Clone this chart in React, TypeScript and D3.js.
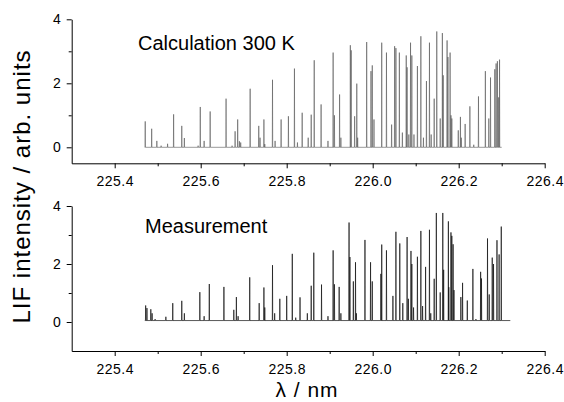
import React, { useEffect, useRef } from "react";
import * as d3 from "d3";

// peak positions (nm) and heights
const calcWavelength = [
  225.471, 225.486, 225.498, 225.508, 225.523, 225.537, 225.556, 225.562, 225.594, 225.599,
  225.608, 225.622, 225.659, 225.673, 225.68, 225.686, 225.69, 225.693, 225.715, 225.735,
  225.738, 225.747, 225.749, 225.767, 225.773, 225.787, 225.804, 225.818, 225.825, 225.836,
  225.85, 225.857, 225.864, 225.88, 225.896, 225.908, 225.911, 225.923, 225.926, 225.948,
  225.95, 225.958, 225.963, 225.965, 225.986, 225.996, 225.999, 226.003, 226.021, 226.032,
  226.044, 226.051, 226.054, 226.062, 226.069, 226.078, 226.08, 226.084, 226.088, 226.091,
  226.096, 226.104, 226.112, 226.118, 226.125, 226.132, 226.136, 226.143, 226.149, 226.157,
  226.162, 226.164, 226.173, 226.175, 226.18, 226.182, 226.184, 226.199, 226.204, 226.206,
  226.215, 226.226, 226.235, 226.246, 226.262, 226.27, 226.274, 226.284, 226.287, 226.29,
  226.293, 226.295,
];
const calcIntensity = [
  0.81, 0.58, 0.2, 0.05, 0.11, 1.03, 0.67, 0.29, 0.05, 1.26,
  0.2, 1.12, 1.52, 0.05, 0.5, 0.87, 0.19, 0.15, 1.83, 0.67,
  0.3, 0.87, 0.1, 2.11, 0.2, 0.87, 0.97, 2.46, 0.15, 1.08,
  0.3, 1.02, 2.72, 1.34, 0.2, 2.96, 1.0, 1.65, 0.3, 3.19,
  3.03, 0.97, 1.99, 0.3, 3.29, 2.38, 2.56, 0.87, 3.27, 2.96,
  0.71, 3.16, 3.1, 2.96, 0.46, 2.87, 2.5, 0.4, 3.27, 2.87,
  0.4, 2.54, 3.47, 0.3, 2.07, 3.27, 0.4, 1.52, 3.62, 0.9,
  3.57, 2.25, 3.34, 2.82, 2.96, 1.0, 0.9, 0.53, 0.95, 0.3,
  0.73, 1.28, 0.08, 1.59, 2.38, 0.9, 2.18, 2.44, 2.62, 2.69,
  1.56, 2.74,
];

const measWavelength = [
  225.472, 225.475, 225.484, 225.487, 225.494, 225.519, 225.535, 225.556, 225.562, 225.598,
  225.608, 225.62, 225.654, 225.677, 225.683, 225.687, 225.714, 225.736, 225.747, 225.749,
  225.767, 225.772, 225.784, 225.8, 225.813, 225.821, 225.831, 225.848, 225.857, 225.863,
  225.881, 225.896, 225.908, 225.911, 225.922, 225.926, 225.945, 225.947, 225.955, 225.96,
  225.962, 225.982, 225.995, 225.999, 226.019, 226.021, 226.032, 226.047, 226.054, 226.063,
  226.07, 226.08, 226.083, 226.089, 226.091, 226.095, 226.104, 226.112, 226.116, 226.123,
  226.132, 226.135, 226.143, 226.148, 226.157, 226.163, 226.165, 226.176, 226.177, 226.182,
  226.184, 226.187, 226.189, 226.205, 226.209, 226.22, 226.233, 226.24, 226.251, 226.253,
  226.267, 226.271, 226.278, 226.281, 226.289, 226.294, 226.299,
];
const measIntensity = [
  0.57, 0.48, 0.44, 0.3, 0.1, 0.18, 0.65, 0.73, 0.3, 1.03,
  0.2, 1.31, 1.21, 0.42, 0.86, 0.2, 1.54, 0.65, 1.19, 0.5,
  1.96, 0.3, 0.8, 0.9, 2.35, 0.15, 0.85, 0.3, 1.25, 2.39,
  1.29, 0.2, 2.47, 1.3, 1.21, 0.3, 3.43, 2.24, 1.4, 2.06,
  0.3, 2.83, 2.06, 1.4, 1.66, 2.67, 2.47, 0.9, 3.11, 2.71,
  0.65, 2.93, 0.8, 2.45, 2.0, 0.5, 2.25, 3.14, 0.55, 1.9,
  3.18, 0.3, 1.49, 3.76, 1.02, 3.76, 1.8, 3.47, 1.2, 3.09,
  2.97, 2.68, 1.1, 0.86, 1.35, 0.74, 1.83, 0.1, 1.73, 1.5,
  2.88, 0.95, 2.22, 2.0, 2.82, 2.33, 3.29,
];

const xTicks = [225.4, 225.6, 225.8, 226.0, 226.2, 226.4];
const xMinorTicks = [225.5, 225.7, 225.9, 226.1, 226.3];
const yTicks = [0, 2, 4];
const yMinorTicks = [1, 3];

const FONT = "Arial, 'Liberation Sans', Helvetica, sans-serif";

const App = () => {
  const ref = useRef<SVGSVGElement>(null);

  useEffect(() => {
    const svg = d3.select(ref.current);
    svg.selectAll("*").remove();

    const x = d3.scaleLinear().domain([225.3, 226.4]).range([71.7, 544.7]);

    const panels = [
      {
        wl: calcWavelength, inten: calcIntensity, start: 225.47, end: 226.3, base: 0,
        yDomain: [-0.5, 4], yRange: [163.3, 19.3], stroke: "#555", width: 0.6,
        label: "Calculation 300 K", lx: 138, ly: 50,
      },
      {
        wl: measWavelength, inten: measIntensity, start: 225.47, end: 226.32, base: 0.05,
        yDomain: [-1, 4], yRange: [351, 206], stroke: "#111", width: 0.7,
        label: "Measurement", lx: 145, ly: 233,
      },
    ];

    panels.forEach(p => {
      const y = d3.scaleLinear().domain(p.yDomain).range(p.yRange);
      const hw = 0.0005;

      // spectrum: narrow triangle per line on a flat baseline
      const order = d3.range(p.wl.length).sort((a, b) => p.wl[a] - p.wl[b]);
      const pts: [number, number][] = [[p.start, p.base]];
      order.forEach(i => {
        pts.push([p.wl[i] - hw, p.base], [p.wl[i], p.inten[i]], [p.wl[i] + hw, p.base]);
      });
      pts.push([p.end, p.base]);

      const line = d3.line<[number, number]>().x(d => x(d[0])).y(d => y(d[1]));

      svg.append("path")
        .datum(pts)
        .attr("fill", "none")
        .attr("stroke", p.stroke)
        .attr("stroke-width", p.width)
        .attr("d", line);

      const axisY = p.yRange[0];

      const gx = svg.append("g")
        .attr("transform", `translate(0,${axisY})`)
        .call(d3.axisBottom(x).tickValues(xTicks).tickFormat(d3.format(".1f"))
          .tickSize(5).tickSizeOuter(0).tickPadding(8));
      svg.append("g")
        .attr("transform", `translate(0,${axisY})`)
        .call(d3.axisBottom(x).tickValues(xMinorTicks).tickFormat(() => "")
          .tickSize(3).tickSizeOuter(0))
        .select(".domain").remove();

      const gy = svg.append("g")
        .attr("transform", "translate(71.7,0)")
        .call(d3.axisLeft(y).tickValues(yTicks).tickFormat(d3.format("d"))
          .tickSize(5).tickSizeOuter(0).tickPadding(6));
      svg.append("g")
        .attr("transform", "translate(71.7,0)")
        .call(d3.axisLeft(y).tickValues(yMinorTicks).tickFormat(() => "")
          .tickSize(3).tickSizeOuter(0))
        .select(".domain").remove();

      [gx, gy].forEach(g => {
        g.selectAll("text")
          .attr("font-family", FONT)
          .attr("font-size", 14)
          .attr("fill", "#000");
      });
      gx.selectAll("text").attr("letter-spacing", 0.5);

      svg.append("text")
        .attr("x", p.lx)
        .attr("y", p.ly)
        .attr("font-family", FONT)
        .attr("font-size", 20)
        .attr("fill", "#000")
        .text(p.label);
    });

    svg.append("text")
      .attr("transform", "translate(29.5,186.5) rotate(-90)")
      .attr("text-anchor", "middle")
      .attr("font-family", FONT)
      .attr("font-size", 24)
      .attr("letter-spacing", 1)
      .attr("fill", "#000")
      .text("LIF intensity / arb. units");

    svg.append("text")
      .attr("x", 307)
      .attr("y", 397)
      .attr("text-anchor", "middle")
      .attr("font-family", FONT)
      .attr("font-size", 21)
      .attr("letter-spacing", 1)
      .attr("fill", "#000")
      .text("λ / nm");
  }, []);

  return (
    <svg
      ref={ref}
      width={564}
      height={402}
      style={{ position: "absolute", left: 0, top: 0, background: "#fff" }}
    ></svg>
  );
};

export default App;
